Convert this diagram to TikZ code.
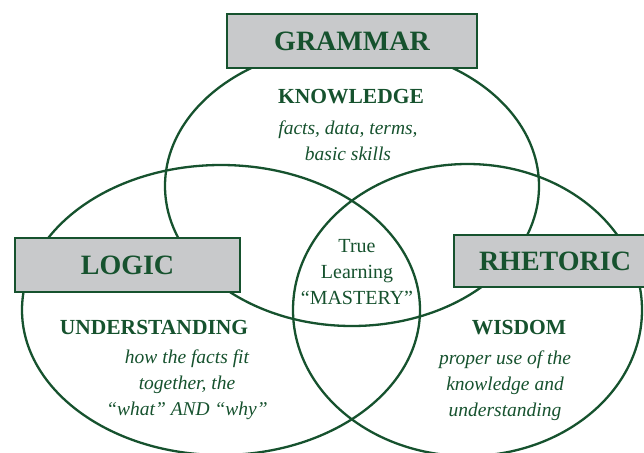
\documentclass[tikz,border=0pt]{standalone}
\usepackage{fontspec}
\setmainfont{Liberation Serif}
\definecolor{dgreen}{RGB}{22,82,46}
\definecolor{boxgray}{RGB}{200,201,203}
\begin{document}
\begin{tikzpicture}[x=1pt,y=-1pt,
  ring/.style={draw=dgreen,line width=2.3pt},
  titlebox/.style={draw=dgreen,fill=boxgray,line width=2.2pt,inner sep=0pt,
    text=dgreen,font=\bfseries\fontsize{28}{30}\selectfont},
  head/.style={text=dgreen,inner sep=0pt,font=\bfseries\fontsize{21.5}{24}\selectfont},
  note/.style={text=dgreen,inner sep=0pt,align=center,font=\itshape\fontsize{19.5}{26}\selectfont},
  core/.style={text=dgreen,inner sep=0pt,align=center,font=\fontsize{20}{26}\selectfont}]
\useasboundingbox (0,0) rectangle (644,452);
\clip (0,0) rectangle (644,452);
\fill[white] (0,0) rectangle (644,452);
% circles
\draw[ring] (352,186) ellipse [x radius=187pt, y radius=140pt];
\draw[ring] (221,310) ellipse [x radius=199pt, y radius=145pt];
\draw[ring] (467.5,310) ellipse [x radius=174.5pt, y radius=146pt];
% title boxes
\node[titlebox,minimum width=250pt,minimum height=54pt] (grammar) at (352,41) {GRAMMAR};
\node[titlebox,minimum width=225pt,minimum height=54pt] (logic) at (127.5,265) {LOGIC};
\node[titlebox,minimum width=202pt,minimum height=52pt] (rhetoric) at (555,261) {RHETORIC};
% grammar texts
\node[head] (knowledge) at (351,97) {KNOWLEDGE};
\node[note] (facts) at (348,141) {facts, data, terms,\\basic skills};
% logic texts
\node[head] (understanding) at (154,327) {UNDERSTANDING};
\node[note] (how) at (187,385) {how the facts fit\\together, the\\“what” AND “why”};
% rhetoric texts
\node[head] (wisdom) at (519,328) {WISDOM};
\node[note] (proper) at (505,386) {proper use of the\\knowledge and\\understanding};
% centre
\node[core] (mastery) at (357,272) {True\\Learning\\“MASTERY”};
\end{tikzpicture}
\end{document}
